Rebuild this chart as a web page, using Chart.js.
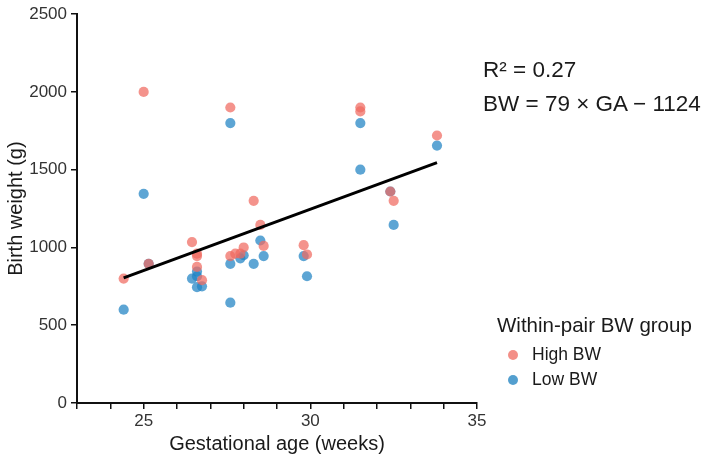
<!DOCTYPE html>
<html>
<head>
<meta charset="utf-8">
<script src="https://cdn.jsdelivr.net/npm/chart.js@4"></script>
<style>
  body { margin: 0; background: #fff; font-family: "Liberation Sans", Arial, sans-serif; }
  #wrap { position: relative; width: 710px; height: 460px; }
  .note { position: absolute; color: #1a1a1a; font-size: 22.5px; white-space: nowrap; }
  .leg-title { position: absolute; left: 497px; top: 313px; font-size: 20.5px; color: #1a1a1a; white-space: nowrap; }
  .leg-item { position: absolute; left: 508px; font-size: 17.5px; color: #1a1a1a; white-space: nowrap; }
  .leg-item span { display: inline-block; width: 10px; height: 10px; border-radius: 50%; margin-right: 14px; vertical-align: 0px; }
</style>
</head>
<body>
<div id="wrap">
  <canvas id="grafico" width="710" height="460"></canvas>
  <div class="note" style="left:483px; top:57px;">R² = 0.27</div>
  <div class="note" style="left:483px; top:91px;">BW = 79 × GA − 1124</div>
  <div class="leg-title">Within-pair BW group</div>
  <div class="leg-item" style="top:344px;"><span style="background:rgba(240,115,105,0.8)"></span>High BW</div>
  <div class="leg-item" style="top:369px;"><span style="background:rgba(40,135,195,0.8)"></span>Low BW</div>
</div>
<script>
// gestational age (weeks) and birth weight (g)
const highGA = [24.4, 25.0, 27.6, 31.5, 31.5, 33.8, 32.4, 32.5, 28.3, 28.5, 26.45, 26.6, 26.6, 26.6, 26.75, 27.6, 27.75, 27.9, 28.0, 28.6, 29.8, 29.9, 25.15];
const highBW = [800, 2000, 1900, 1900, 1875, 1720, 1360, 1300, 1300, 1145, 1035, 960, 945, 875, 790, 945, 960, 960, 1000, 1010, 1015, 955, 895];
const lowGA = [24.4, 25.0, 27.6, 31.5, 31.5, 33.8, 32.5, 32.4, 25.15, 26.45, 26.6, 26.6, 26.6, 26.75, 27.6, 27.9, 28.0, 28.3, 28.5, 28.6, 27.6, 29.8, 29.9];
const lowBW = [600, 1345, 1800, 1800, 1500, 1655, 1145, 1360, 895, 800, 845, 815, 745, 750, 895, 930, 950, 895, 1045, 945, 645, 945, 815];
// fitted line end points
const fitGA = [24.4, 33.8];
const fitBW = [804, 1546];

const xTicks = [25, 30, 35];
const yTicks = [0, 500, 1000, 1500, 2000, 2500];

function pontos(xs, ys) {
    return xs.map((x, i) => ({ x: x, y: ys[i] }));
}

const eixoFonte = { family: '"Liberation Sans", Arial, sans-serif', size: 17 };
const tituloFonte = { family: '"Liberation Sans", Arial, sans-serif', size: 20 };

new Chart(document.getElementById('grafico').getContext('2d'), {
    type: 'scatter',
    data: {
        datasets: [
            {
                label: 'Low BW',
                data: pontos(lowGA, lowBW),
                backgroundColor: 'rgba(30,130,195,0.72)',
                borderWidth: 0,
                pointRadius: 5.1,
                order: 2
            },
            {
                label: 'High BW',
                data: pontos(highGA, highBW),
                backgroundColor: 'rgba(240,105,95,0.72)',
                borderWidth: 0,
                pointRadius: 5.1,
                order: 1
            },
            {
                type: 'line',
                label: 'fit',
                data: pontos(fitGA, fitBW),
                borderColor: '#000',
                borderWidth: 3,
                pointRadius: 0,
                fill: false,
                order: 0
            }
        ]
    },
    options: {
        responsive: false,
        animation: false,
        events: [],
        layout: { padding: { top: 6, right: 233, left: 0, bottom: 0 } },
        plugins: { legend: { display: false }, tooltip: { enabled: false } },
        scales: {
            x: {
                type: 'linear',
                min: 23,
                max: 35,
                afterFit: function(scale) { scale.height = 57; },
                ticks: {
                    stepSize: 1,
                    autoSkip: false,
                    maxRotation: 0,
                    color: '#333',
                    font: eixoFonte,
                    padding: 2,
                    callback: v => xTicks.includes(v) ? String(v) : ''
                },
                grid: { drawOnChartArea: false, drawTicks: true, tickLength: 6, color: '#111', lineWidth: 1.5 },
                border: { display: true, color: '#111', width: 2 },
                title: { display: true, text: 'Gestational age (weeks)', color: '#1a1a1a', font: tituloFonte, padding: { top: 0 } }
            },
            y: {
                min: 0,
                max: 2500,
                afterFit: function(scale) { scale.width = 77; },
                afterBuildTicks: function(scale) { scale.ticks = yTicks.map(v => ({ value: v })); },
                ticks: { color: '#333', font: eixoFonte, padding: 4, callback: v => String(v) },
                grid: { drawOnChartArea: false, drawTicks: true, tickLength: 6, color: '#111', lineWidth: 1.5 },
                border: { display: true, color: '#111', width: 2 },
                title: { display: true, text: 'Birth weight (g)', color: '#1a1a1a', font: tituloFonte, padding: { bottom: 0 } }
            }
        }
    }
});
</script>
</body>
</html>
